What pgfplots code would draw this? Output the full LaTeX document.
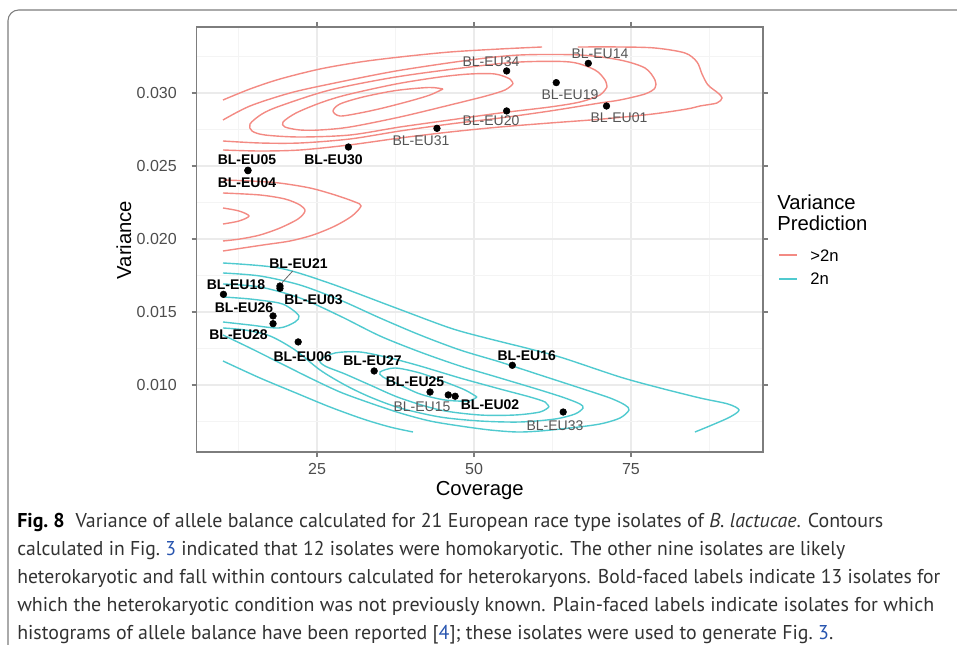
\documentclass[border=0pt]{standalone}
\usepackage{pgfplots}
\pgfplotsset{compat=1.18}
\usepackage{graphicx}
\usepackage{fontspec}
\setmainfont{Liberation Sans}
\newfontfamily\capfont{PT Sans}
\definecolor{cred}{RGB}{243,138,131}
\definecolor{cblue}{RGB}{80,202,207}
\definecolor{ticklab}{RGB}{77,77,77}
\definecolor{plainlab}{RGB}{85,85,85}
\definecolor{capgray}{RGB}{50,50,50}
\definecolor{linkblue}{RGB}{40,85,175}
\definecolor{gridmaj}{RGB}{235,235,235}
\definecolor{gridmin}{RGB}{244,244,244}
\definecolor{border}{RGB}{125,125,125}
\newsavebox\fitbox
\newcommand\fitline[2]{\sbox\fitbox{#2}\pgfmathsetmacro\fitsc{#1/\wd\fitbox}\scalebox{\fitsc}[1]{\usebox\fitbox}}
\tikzset{
  plain/.style={font=\fontsize{10.5}{12}\selectfont, text=plainlab, inner sep=0pt},
  boldl/.style={font=\fontsize{10.5}{12}\selectfont\bfseries, text=black, inner sep=0pt},
}
\begin{document}
\begin{tikzpicture}
\useasboundingbox (0,0) rectangle (717.75pt,-483.75pt);
\draw[border, line width=0.8pt, rounded corners=8pt] (6pt,-500pt) -- (6pt,-7.5pt) -- (730pt,-7.5pt);
\begin{axis}[
  at={(147.375pt,-339pt)}, anchor=south west,
  scale only axis, width=424.875pt, height=318.75pt,
  xmin=5.81, xmax=96.02, ymin=0.005411, ymax=0.034520,
  xtick={25,50,75}, xticklabels={25,50,75},
  ytick={0.010,0.015,0.020,0.025,0.030},
  yticklabels={0.010,0.015,0.020,0.025,0.030},
  minor xtick={12.5,37.5,62.5,87.5},
  minor ytick={0.0075,0.0125,0.0175,0.0225,0.0275,0.0325},
  scaled y ticks=false,
  grid=both,
  major grid style={gridmaj, line width=0.9pt},
  minor grid style={gridmin, line width=0.5pt},
  tick align=outside,
  major tick length=3.75pt, minor tick length=0pt,
  tick style={border, line width=0.8pt},
  axis line style={border, line width=0.8pt},
  ticklabel style={font=\fontsize{12}{14}\selectfont, text=ticklab},
  xticklabel style={anchor=base, inner sep=0pt, yshift=-13.2pt},
  yticklabel style={anchor=east, inner sep=0pt, xshift=-10.9pt},
  contR/.style={cred, line width=1.05pt, smooth},
  contB/.style={cblue, line width=1.05pt, smooth},
]
% ---------------- red (>2n) contours, upper group
\addplot[contR] coordinates {(45.07,0.030274) (42.83,0.030377) (37.58,0.030171) (32.33,0.029726) (28.66,0.029247) (27.55,0.028767) (28.66,0.028425) (31.85,0.028630) (35.51,0.028973) (39.81,0.029452) (42.99,0.029863) (45.07,0.030274)};
\addplot[contR] coordinates {(56.21,0.030616) (55.73,0.030959) (53.34,0.031301) (49.36,0.031301) (44.59,0.031096) (37.58,0.030616) (29.62,0.029863) (25.48,0.029315) (21.66,0.028630) (19.59,0.028014) (19.90,0.027671) (22.29,0.027466) (25.48,0.027466) (30.25,0.027671) (38.22,0.028356) (46.18,0.029178) (51.91,0.029795) (54.94,0.030205) (56.21,0.030616)};
\addplot[contR] coordinates {(71.18,0.030411) (70.86,0.030890) (69.27,0.031575) (65.29,0.032123) (57.32,0.032123) (49.36,0.031781) (37.58,0.031096) (27.07,0.030205) (19.11,0.029110) (16.24,0.028562) (14.33,0.027877) (14.65,0.027397) (16.72,0.027123) (22.29,0.026986) (30.25,0.027123) (38.22,0.027671) (46.18,0.028151) (54.14,0.028630) (62.10,0.029041) (66.88,0.029384) (70.06,0.029863) (71.18,0.030411)};
\addplot[contR] coordinates {(10.03,0.028151) (14.33,0.029110) (20.70,0.030000) (27.07,0.030616) (37.58,0.031507) (49.36,0.032260) (57.32,0.032603) (66.88,0.032603) (73.25,0.032260) (77.23,0.031712) (78.82,0.030890) (78.82,0.030342) (77.23,0.029932) (73.25,0.029521) (70.06,0.029315) (62.10,0.028767) (54.14,0.028288) (46.18,0.027877) (38.22,0.027397) (30.25,0.026849) (22.29,0.026575) (15.92,0.026575) (10.03,0.026712)};
\addplot[contR] coordinates {(10.03,0.029521) (14.33,0.030274) (19.11,0.030959) (25.48,0.031644) (31.85,0.032123) (38.22,0.032466) (46.18,0.032808) (54.14,0.033014) (60.83,0.033151)};
\addplot[contR] coordinates {(66.56,0.033151) (73.25,0.033151) (78.82,0.033082) (83.60,0.032740) (85.51,0.032123) (86.31,0.031301) (87.26,0.030548) (88.85,0.030000) (89.49,0.029658) (88.69,0.029315) (85.99,0.029110) (83.92,0.028904) (78.50,0.028562) (70.54,0.028219) (62.10,0.027945) (54.14,0.027671) (46.18,0.027329) (38.22,0.026918) (30.10,0.026438) (22.29,0.026096) (15.92,0.026027) (10.03,0.026096)};
% ---------------- red (>2n) contours, lower-left group
\addplot[contR] coordinates {(10.03,0.024041) (14.33,0.023973) (18.95,0.023836) (23.89,0.023493) (27.87,0.023014) (31.05,0.022534) (32.01,0.022260) (30.57,0.021575) (27.87,0.020890) (24.36,0.020274) (20.70,0.019863) (16.40,0.019589) (10.03,0.019178)};
\addplot[contR] coordinates {(10.03,0.023151) (15.92,0.023014) (19.90,0.022740) (22.29,0.022329) (23.09,0.021918) (21.97,0.021370) (19.11,0.020754) (15.92,0.020274) (12.74,0.020000) (10.03,0.019863)};
\addplot[contR] coordinates {(10.03,0.022123) (12.58,0.021918) (14.17,0.021575) (12.58,0.021233) (10.03,0.021027)};
% ---------------- blue (2n) contours
\addplot[contB] coordinates {(10.03,0.018356) (18.95,0.018014) (26.91,0.016986) (37.58,0.015274) (46.18,0.013905) (51.91,0.013220) (58.92,0.012467) (64.17,0.011850) (73.25,0.010548) (79.62,0.009795) (85.99,0.009110) (90.45,0.008698) (92.20,0.008288) (90.76,0.007808) (87.90,0.007260) (85.19,0.006781)};
\addplot[contB] coordinates {(10.03,0.011644) (15.92,0.010480) (21.66,0.009452) (27.07,0.008493) (32.33,0.007671) (36.62,0.007123) (40.29,0.006781)};
\addplot[contB] coordinates {(10.03,0.017672) (15.92,0.017466) (22.29,0.016849) (28.66,0.015822) (35.03,0.014589) (41.40,0.013425) (47.77,0.012398) (54.14,0.011576) (60.51,0.010685) (66.88,0.009795) (71.66,0.009110) (74.04,0.008630) (74.68,0.008288) (73.25,0.007740) (70.06,0.007329) (65.29,0.007055) (60.51,0.006849) (56.85,0.006781) (52.55,0.006918) (47.77,0.007192) (42.99,0.007534) (38.22,0.008082) (33.44,0.008767) (28.66,0.009521) (23.89,0.010480) (19.11,0.011507) (14.33,0.012535) (10.03,0.013425)};
\addplot[contB] coordinates {(10.03,0.016918) (15.92,0.016713) (22.29,0.015959) (28.66,0.014726) (35.03,0.013357) (41.40,0.012261) (47.77,0.011302) (54.14,0.010480) (60.51,0.009658) (64.49,0.009110) (66.88,0.008698) (67.36,0.008425) (66.08,0.008014) (62.90,0.007671) (57.32,0.007466) (50.96,0.007534) (44.59,0.007808) (38.22,0.008425) (33.44,0.009178) (29.46,0.010000) (25.48,0.011028) (21.50,0.012398) (17.52,0.013357) (13.54,0.013768) (10.03,0.013905)};
\addplot[contB] coordinates {(61.94,0.008493) (61.31,0.008836) (58.92,0.009178) (54.14,0.009726) (47.77,0.010480) (41.40,0.011302) (36.62,0.011850) (31.85,0.012261) (27.87,0.012193) (25.48,0.011713) (26.27,0.011302) (29.46,0.010754) (33.44,0.010000) (38.22,0.009110) (44.59,0.008288) (50.96,0.007945) (56.53,0.007945) (60.51,0.008151) (61.94,0.008493)};
\addplot[contB] coordinates {(50.48,0.009178) (48.57,0.009658) (45.38,0.010206) (41.40,0.010822) (37.42,0.011165) (35.03,0.010891) (35.51,0.010548) (37.90,0.010069) (41.40,0.009384) (45.38,0.008973) (49.04,0.008904) (50.48,0.009178)};
\addplot[contB] coordinates {(10.03,0.016028) (14.33,0.015891) (18.95,0.015617) (20.70,0.015274) (22.13,0.014726) (21.50,0.014316) (18.95,0.013905) (14.33,0.014110) (10.03,0.014316)};
% ---------------- leader line for BL-EU21
\addplot[black!60, line width=0.6pt] coordinates {(19.43,0.017006) (21.13,0.017808)};
% ---------------- isolates
\addplot[only marks, mark=*, mark size=2.5pt, black] coordinates {
(68.2,0.03203) (55.2,0.03151) (63.1,0.03071) (71.1,0.02911) (55.2,0.02877)
(44.1,0.02758) (30.0,0.02630) (14.0,0.02471) (14.0,0.02468)
(10.1,0.01621) (19.1,0.01678) (19.1,0.01662) (18.0,0.01473) (18.0,0.01420)
(22.0,0.01295) (34.1,0.01096) (43.0,0.00952) (45.9,0.00932) (47.0,0.00923)
(56.1,0.01135) (64.2,0.00815)};
% ---------------- labels
\node[plain] at (axis cs:70.06,0.032671) {BL-EU14};
\node[plain] at (axis cs:52.71,0.032123) {BL-EU34};
\node[plain] at (axis cs:65.29,0.029863) {BL-EU19};
\node[plain] at (axis cs:73.09,0.028288) {BL-EU01};
\node[plain] at (axis cs:52.71,0.028082) {BL-EU20};
\node[plain] at (axis cs:41.56,0.026712) {BL-EU31};
\node[plain] at (axis cs:41.72,0.008494) {BL-EU15};
\node[plain] at (axis cs:62.90,0.007193) {BL-EU33};
\node[boldl] at (axis cs:13.85,0.025411) {BL-EU05};
\node[boldl] at (axis cs:13.85,0.023836) {BL-EU04};
\node[boldl] at (axis cs:27.63,0.025411) {BL-EU30};
\node[boldl] at (axis cs:22.05,0.018322) {BL-EU21};
\node[boldl] at (axis cs:12.10,0.016849) {BL-EU18};
\node[boldl] at (axis cs:24.44,0.015822) {BL-EU03};
\node[boldl] at (axis cs:13.38,0.015309) {BL-EU26};
\node[boldl] at (axis cs:12.50,0.013425) {BL-EU28};
\node[boldl] at (axis cs:22.72,0.011918) {BL-EU06};
\node[boldl] at (axis cs:33.84,0.011644) {BL-EU27};
\node[boldl] at (axis cs:40.61,0.010206) {BL-EU25};
\node[boldl] at (axis cs:52.55,0.008631) {BL-EU02};
\node[boldl] at (axis cs:58.39,0.011986) {BL-EU16};
\end{axis}
% axis titles
\node[font=\fontsize{15.2}{18}\selectfont, anchor=base, inner sep=0pt] at (359.8pt,-371.25pt) {Coverage};
\node[font=\fontsize{15.2}{18}\selectfont, rotate=90, inner sep=0pt] at (93pt,-180pt) {Variance};
% legend
\node[font=\fontsize{15.2}{18}\selectfont, anchor=base west, inner sep=0pt] at (582.75pt,-157.5pt) {Variance};
\node[font=\fontsize{15.2}{18}\selectfont, anchor=base west, inner sep=0pt] at (582.75pt,-173.25pt) {Prediction};
\draw[cred, line width=1.1pt] (584.25pt,-191.25pt) -- (597.75pt,-191.25pt);
\draw[cblue, line width=1.1pt] (584.25pt,-209.25pt) -- (597.75pt,-209.25pt);
\node[font=\fontsize{12.5}{14}\selectfont, anchor=base west, inner sep=0pt] at (607.5pt,-196.5pt) {>2n};
\node[font=\fontsize{12.5}{14}\selectfont, anchor=base west, inner sep=0pt] at (607.5pt,-213.75pt) {2n};
% caption
\begin{scope}[every node/.style={anchor=base west, inner sep=0pt, font=\capfont\fontsize{15}{18}\selectfont, text=capgray}]
\node at (12.75pt,-395.25pt) {\fitline{649.5}{{\bfseries\color{black}Fig.~8}\hspace{0.55em}Variance of allele balance calculated for 21 European race type isolates of \textit{B. lactucae}. Contours}};
\node at (12.75pt,-416.25pt) {\fitline{621}{calculated in Fig.~{\color{linkblue}3} indicated that 12 isolates were homokaryotic. The other nine isolates are likely}};
\node at (12.75pt,-437.25pt) {\fitline{692.25}{heterokaryotic and fall within contours calculated for heterokaryons. Bold-faced labels indicate 13 isolates for}};
\node at (12.75pt,-458.25pt) {\fitline{687.75}{which the heterokaryotic condition was not previously known. Plain-faced labels indicate isolates for which}};
\node at (12.75pt,-479.25pt) {\fitline{612}{histograms of allele balance have been reported [{\color{linkblue}4}]; these isolates were used to generate Fig.~{\color{linkblue}3}.}};
\end{scope}
\end{tikzpicture}
\end{document}
